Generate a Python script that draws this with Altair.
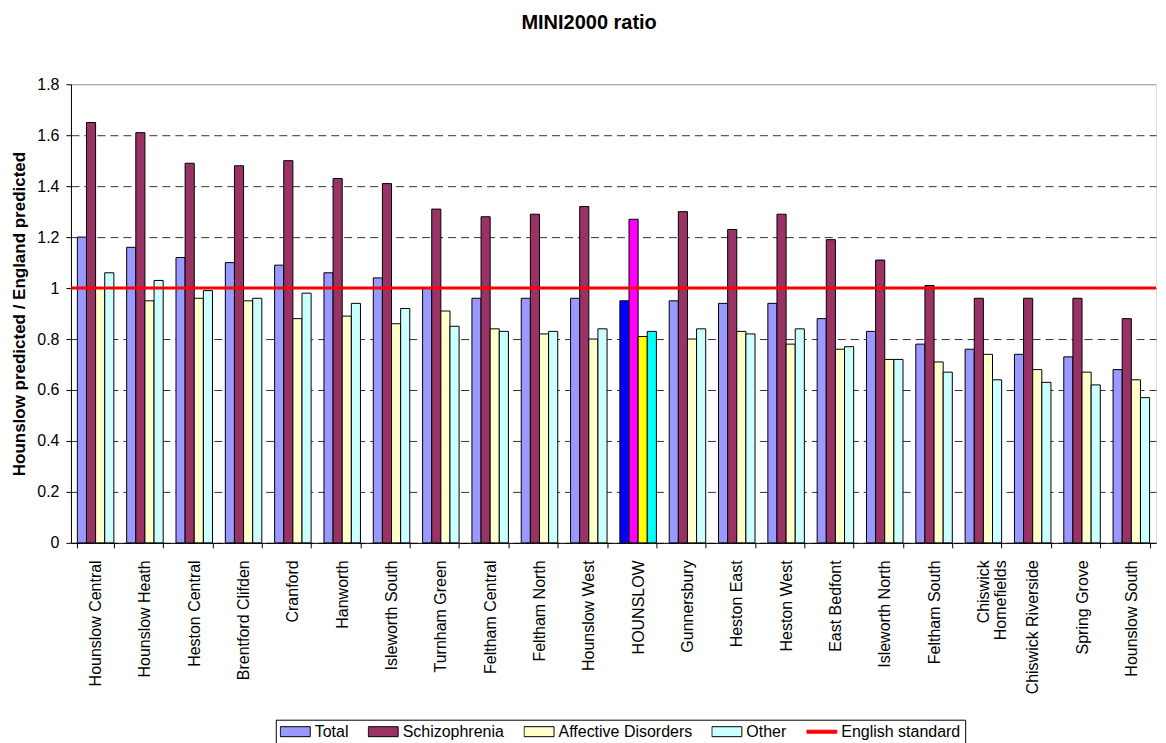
import altair as alt
import pandas as pd

FONT = "Liberation Sans"

wards = ["Hounslow Central", "Hounslow Heath", "Heston Central", "Brentford Clifden",
         "Cranford", "Hanworth", "Isleworth South", "Turnham Green", "Feltham Central",
         "Feltham North", "Hounslow West", "HOUNSLOW", "Gunnersbury", "Heston East",
         "Heston West", "East Bedfont", "Isleworth North", "Feltham South",
         "Chiswick Homefields", "Chiswick Riverside", "Spring Grove", "Hounslow South"]

total = [1.20, 1.16, 1.12, 1.10, 1.09, 1.06, 1.04, 1.00, 0.96, 0.96, 0.96,
         0.95, 0.95, 0.94, 0.94, 0.88, 0.83, 0.78, 0.76, 0.74, 0.73, 0.68]
schizophrenia = [1.65, 1.61, 1.49, 1.48, 1.50, 1.43, 1.41, 1.31, 1.28, 1.29, 1.32,
                 1.27, 1.30, 1.23, 1.29, 1.19, 1.11, 1.01, 0.96, 0.96, 0.96, 0.88]
affective = [1.00, 0.95, 0.96, 0.95, 0.88, 0.89, 0.86, 0.91, 0.84, 0.82, 0.80,
             0.81, 0.80, 0.83, 0.78, 0.76, 0.72, 0.71, 0.74, 0.68, 0.67, 0.64]
other = [1.06, 1.03, 0.99, 0.96, 0.98, 0.94, 0.92, 0.85, 0.83, 0.83, 0.84,
         0.83, 0.84, 0.82, 0.84, 0.77, 0.72, 0.67, 0.64, 0.63, 0.62, 0.57]

series = ["Total", "Schizophrenia", "Affective Disorders", "Other"]
series_colors = ["#9999FF", "#993366", "#FFFFCC", "#CCFFFF"]
highlight_colors = ["#0000FF", "#FF00FF", "#FFFF00", "#00FFFF"]
highlight_ward = "HOUNSLOW"
standard_label = "English standard"
standard_value = 1.0
y_ticks = [0, 0.2, 0.4, 0.6, 0.8, 1.0, 1.2, 1.4, 1.6, 1.8]

rows = []
for name, vals in zip(series, [total, schizophrenia, affective, other]):
    for w, v in zip(wards, vals):
        key = name + " (H)" if w == highlight_ward else name
        rows.append({"Ward": w, "Series": name, "Key": key, "Value": v})
df = pd.DataFrame(rows)

fill_domain = series + [standard_label] + [s + " (H)" for s in series]
fill_range = series_colors + ["#FF0000"] + highlight_colors

is_std = "datum.value == 'English standard'"
wrap_expr = ("datum.label == 'Chiswick Homefields' ? "
             "['Chiswick\u00a0\u00a0', 'Homefields'] : datum.label")

bars = alt.Chart(df).mark_bar(stroke="black").encode(
    x=alt.X("Ward:N", sort=wards, title=None,
            scale=alt.Scale(paddingInner=0.26, paddingOuter=0.13),
            axis=alt.Axis(labelAngle=-90, labelFontSize=16, labelFont=FONT, labelColor="black",
                          tickBand="extent", tickSize=5, tickColor="black",
                          domainColor="black", labelPadding=12, labelLineHeight=17,
                          labelExpr=wrap_expr)),
    xOffset=alt.XOffset("Series:N", scale=alt.Scale(domain=series, paddingInner=0, paddingOuter=0)),
    y=alt.Y("Value:Q", title="Hounslow predicted / England predicted",
            scale=alt.Scale(domain=[0, 1.8], nice=False),
            axis=alt.Axis(values=y_ticks, format="~g", labelFontSize=16, labelFont=FONT,
                          labelColor="black", tickSize=5, tickColor="black", domainColor="black",
                          labelPadding=7, titleFontSize=17, titleFont=FONT, titleFontWeight="bold",
                          titleColor="black", titlePadding=8, grid=True,
                          gridColor={"condition": {"test": "datum.value >= 1.79", "value": "#999999"}, "value": "#333333"},
                          gridDash={"condition": {"test": "datum.value >= 1.79", "value": []}, "value": [8, 5]})),
    fill=alt.Fill("Key:N", scale=alt.Scale(domain=fill_domain, range=fill_range),
                  legend=alt.Legend(
                      values=series + [standard_label], orient="none", legendX=205, legendY=636,
                      direction="horizontal", title=None, strokeColor="black", padding=4,
                      labelFontSize=16, labelFont=FONT, labelColor="black", labelOffset=4,
                      columnPadding=19, symbolSize=900, clipHeight=16, symbolStrokeWidth=1,
                      symbolType=alt.ExprRef(expr=is_std + " ? 'M-1,-0.1H1V0.1H-1Z' : 'M-1,-0.333H1V0.333H-1Z'"),
                      symbolStrokeColor=alt.ExprRef(expr=is_std + " ? '#FF0000' : '#000000'"),
                  )),
)

rule = alt.Chart(pd.DataFrame({"std": [standard_value]})).mark_rule(
    color="#FF0000", strokeWidth=3).encode(y="std:Q")

chart = alt.layer(bars, rule).properties(
    width=1086, height=459,
    title=alt.Title("MINI2000 ratio", fontSize=20, font=FONT, fontWeight="bold",
                    color="black", anchor="middle", frame="bounds", offset=43, dx=5),
    padding={"left": 2, "top": 5, "right": 0, "bottom": 0},
).configure_view(stroke=None).configure(background="white")

chart.save("out.html", embed_options={"renderer": "svg", "actions": False})
